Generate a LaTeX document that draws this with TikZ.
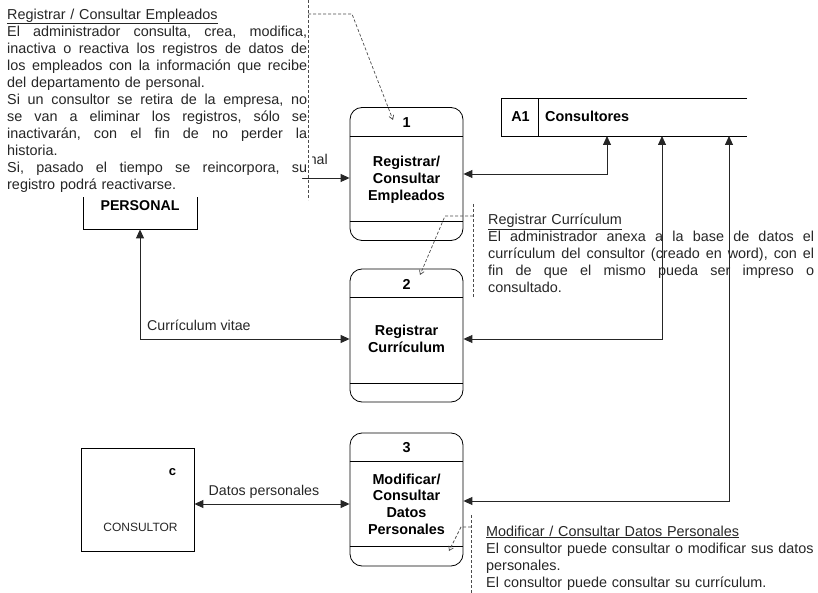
\documentclass[tikz,border=0pt]{standalone}
\usepackage{fontspec}
\setmainfont{Liberation Sans}
\usetikzlibrary{arrows.meta,calc}
\newcommand{\jl}[2]{\leavevmode\hbox to #1{#2}\\}
\begin{document}
\begin{tikzpicture}[x=1pt,y=-1pt,
  line/.style={draw=black!85, line width=0.9pt},
  biarrow/.style={line, {Triangle[length=9pt,width=8pt]}-{Triangle[length=9pt,width=8pt]}},
  toarrow/.style={line, -{Triangle[length=9pt,width=8pt]}},
  proc/.style={draw, line width=0.8pt, rounded corners=12pt, minimum width=113pt, minimum height=133pt, inner sep=0pt},
  ext/.style={draw, line width=0.8pt, minimum width=114pt, minimum height=103pt, inner sep=0pt},
  ptitle/.style={font=\fontsize{14.4}{17}\selectfont\bfseries, align=center, inner sep=0pt, anchor=base, text width=113pt},
  note/.style={font=\fontsize{14.4}{17}\selectfont, text=black!85, inner sep=0pt, anchor=base west, align=left},
  noteline/.style={draw=black!70, line width=0.7pt, dash pattern=on 3pt off 2pt},
  notearrow/.style={noteline, -{Straight Barb[length=4pt,width=5pt]}},
  lbl/.style={font=\fontsize{14.2}{17}\selectfont, text=black!85, inner sep=0pt},
]
\useasboundingbox (0,0) rectangle (818,593);

% ---------- processes ----------
\node[proc] (p1) at (406.5,174) {};
\draw[line width=0.8pt] ($(p1.north west)+(0,29)$) -- ($(p1.north east)+(0,29)$);
\draw[line width=0.8pt] ($(p1.south west)+(0,-19)$) -- ($(p1.south east)+(0,-19)$);
\node[ptitle] (p1num) at (406.5,128) {1};
\node[ptitle] (p1txt) at (406.5,166.5) {Registrar/\\Consultar\\Empleados};

\node[proc] (p2) at (406.5,335.5) {};
\draw[line width=0.8pt] ($(p2.north west)+(0,29)$) -- ($(p2.north east)+(0,29)$);
\draw[line width=0.8pt] ($(p2.south west)+(0,-19)$) -- ($(p2.south east)+(0,-19)$);
\node[ptitle] (p2num) at (406.5,290) {2};
\node[ptitle] (p2txt) at (406.5,335) {Registrar\\Currículum};

\node[proc] (p3) at (406.5,499.5) {};
\draw[line width=0.8pt] ($(p3.north west)+(0,29)$) -- ($(p3.north east)+(0,29)$);
\draw[line width=0.8pt] ($(p3.south west)+(0,-20)$) -- ($(p3.south east)+(0,-20)$);
\node[ptitle] (p3num) at (406.5,452) {3};
\node[ptitle, font=\fontsize{14.4}{16.7}\selectfont\bfseries] (p3txt) at (406.5,484) {Modificar/\\Consultar\\Datos\\Personales};

% ---------- data store ----------
\node[inner sep=0pt, minimum width=245pt, minimum height=37pt] (st) at (624.5,117.5) {};
\draw[line width=0.8pt] (st.north east) -- (st.north west) -- (st.south west) -- (st.south east);
\draw[line width=0.8pt] ($(st.north west)+(37,0)$) -- ($(st.south west)+(37,0)$);
\node[font=\fontsize{14.4}{17}\selectfont\bfseries, inner sep=0pt, anchor=base] (stid) at (520.5,121.5) {A1};
\node[font=\fontsize{14.4}{17}\selectfont\bfseries, inner sep=0pt, anchor=base west] (stname) at (545,121.5) {Consultores};
\coordinate (sa) at (607,136);
\coordinate (sb) at (662,136);
\coordinate (sc) at (729,136);

% ---------- external entities ----------
\node[ext] (pers) at (140,177.5) {};
\node[font=\fontsize{14.2}{17}\selectfont\bfseries, inner sep=0pt, anchor=base] (perstxt) at (140,211) {PERSONAL};

\node[ext, minimum width=113pt] (cons) at (137.5,499.5) {};
\node[font=\fontsize{13}{15}\selectfont\bfseries, inner sep=0pt, anchor=base] (consc) at (172.5,475) {c};
\node[font=\fontsize{12}{14}\selectfont, text=black!85, inner sep=0pt, anchor=base] (constxt) at (140.5,531.5) {CONSULTOR};

% ---------- flows ----------
\coordinate (p1l) at ([yshift=-4pt]p1.west);
\draw[toarrow] (pers.east |- p1l) -- (p1l);
\begin{scope}
  \clip (312,145) rectangle (345,172);
  \node[lbl, anchor=base east] (lpers) at (328,165) {personal};
\end{scope}

\draw[biarrow] (p1.east) -| (sa);
\draw[biarrow] ([yshift=-3.5pt]p2.east) -| (sb);
\draw[biarrow] ([yshift=-1.5pt]p3.east) -| (sc);

\coordinate (p2l) at ([yshift=-3.5pt]p2.west);
\draw[biarrow] (pers.south) |- (p2l);
\node[lbl, anchor=base west] (lcv) at (147,330) {Currículum vitae};

\coordinate (p3l) at ([yshift=-4.5pt]p3.west);
\draw[biarrow] (cons.east |- p3l) -- (p3l);
\node[lbl, anchor=base west] (ldp) at (208.5,495) {Datos personales};

% ---------- annotation 1 ----------
\fill[white] (0,0) -- (311,0) -- (311,172) -- (302,172) -- (302,197) -- (0,197) -- cycle;
\node[note, text width=300pt] (n1) at (7,19.3) {%
\underline{Registrar / Consultar Empleados}\\
\jl{300pt}{El\hfill administrador\hfill consulta,\hfill crea,\hfill modifica,}
\jl{300pt}{inactiva\hfill o\hfill reactiva\hfill los\hfill registros\hfill de\hfill datos\hfill de}
\jl{300pt}{los\hfill empleados\hfill con\hfill la\hfill información\hfill que\hfill recibe}
del departamento de personal.\\
\jl{300pt}{Si\hfill un\hfill consultor\hfill se\hfill retira\hfill de\hfill la\hfill empresa,\hfill no}
\jl{300pt}{se\hfill van\hfill a\hfill eliminar\hfill los\hfill registros,\hfill sólo\hfill se}
\jl{300pt}{inactivarán,\hfill con\hfill el\hfill fin\hfill de\hfill no\hfill perder\hfill la}
historia.\\
\jl{300pt}{Si,\hfill pasado\hfill el\hfill tiempo\hfill se\hfill reincorpora,\hfill su}
registro podrá reactivarse.};
\coordinate (n1a) at (308,0);
\coordinate (n1b) at (308,200);
\coordinate (n1c) at (308,14);
\coordinate (n1d) at (352,14);
\coordinate (n1e) at (393,120);
\draw[noteline] (n1a) -- (n1b);
\draw[notearrow] (n1c) -- (n1d) -- (n1e);

% ---------- annotation 2 ----------
\node[note, text width=326pt] (n2) at (488,225) {%
\underline{Registrar Currículum}\\
\jl{326pt}{El\hfill administrador\hfill anexa\hfill a\hfill la\hfill base\hfill de\hfill datos\hfill el}
\jl{326pt}{currículum\hfill del\hfill consultor\hfill (creado\hfill en\hfill word),\hfill con\hfill el}
\jl{326pt}{fin\hfill de\hfill que\hfill el\hfill mismo\hfill pueda\hfill ser\hfill impreso\hfill o}
consultado.};
\coordinate (n2a) at (473,204);
\coordinate (n2b) at (473,298);
\coordinate (n2c) at (473,216);
\coordinate (n2d) at (445,216);
\coordinate (n2e) at (420,275);
\draw[noteline] (n2a) -- (n2b);
\draw[notearrow] (n2c) -- (n2d) -- (n2e);

% ---------- annotation 3 ----------
\node[note, text width=331pt] (n3) at (486,536) {%
\underline{Modificar / Consultar Datos Personales}\\
El consultor puede consultar o modificar sus datos\\
personales.\\
El consultor puede consultar su currículum.};
\coordinate (n3a) at (471,515);
\coordinate (n3b) at (471,593);
\coordinate (n3c) at (471,527);
\coordinate (n3d) at (461,527);
\coordinate (n3e) at (449,551);
\draw[noteline] (n3a) -- (n3b);
\draw[notearrow] (n3c) -- (n3d) -- (n3e);
\end{tikzpicture}
\end{document}
